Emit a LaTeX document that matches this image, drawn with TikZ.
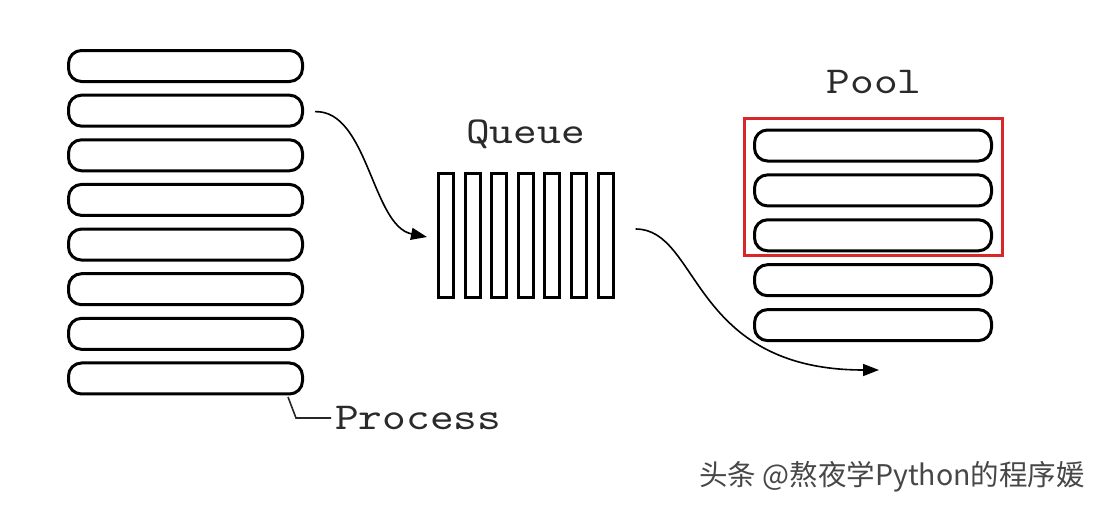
\documentclass[tikz,border=0pt]{standalone}
\usepackage{fontspec}
\newfontfamily\labelfont[FakeStretch=1.19]{lmmono10-regular.otf}
\newfontfamily\cjkfont{Noto Sans CJK SC}
\usetikzlibrary{arrows.meta}
\definecolor{poolred}{HTML}{D9262A}
\definecolor{inkgray}{HTML}{2A2A2A}
\tikzset{
  procbox/.style={draw=black, line width=3pt, rounded corners=13pt, minimum width=234pt, minimum height=31pt, inner sep=0pt},
  poolbox/.style={draw=black, line width=3pt, rounded corners=13pt, minimum width=237pt, minimum height=31pt, inner sep=0pt},
  qbar/.style={draw=black, line width=3pt, minimum width=15pt, minimum height=124pt, inner sep=0pt},
  lbl/.style={font=\labelfont\fontsize{38}{40}\selectfont, text=inkgray, inner sep=0pt},
  flow/.style={draw=black, line width=1.6pt, -{Triangle[length=16pt,width=12pt]}},
  thin/.style={draw=black!85, line width=1.6pt}
}
\begin{document}
\begin{tikzpicture}[x=1pt,y=-1pt]
\useasboundingbox (0,0) rectangle (1100,506);
% process stack
\foreach \i in {1,...,8}{
  \node[procbox] (p\i) at (185.5, {66+44.64*(\i-1)}) {};
}
% queue bars
\foreach \i in {1,...,7}{
  \node[qbar] (q\i) at ({446+26.6*(\i-1)}, 235.5) {};
}
% pool stack
\foreach \i in {1,...,5}{
  \node[poolbox] (r\i) at (873, {145.5+44.9*(\i-1)}) {};
}
% red selection box
\node[draw=poolred, line width=2.6pt, minimum width=258pt, minimum height=137pt, inner sep=0pt] (sel) at (873.5,187) {};
% labels
\node[lbl, anchor=base] (queue) at (525.5,143) {Queue};
\node[lbl, anchor=base] (pool) at (874,93) {Pool};
\node[lbl, anchor=base west] (proc) at (335,429) {Process};
% watermark
\node[font=\cjkfont\fontsize{28.5}{30}\selectfont, text=black!72, inner sep=0pt] (wm) at (892,477) {头条 @熬夜学Python的程序媛};
% connectors
\draw[flow] ([xshift=11pt,yshift=-1pt]p2.east) .. controls (368,110) and (372,226) .. ([xshift=-10pt,yshift=-1.5pt]q1.west);
\coordinate (poolin) at (879,370);
\draw[flow] ([xshift=21pt,yshift=6.5pt]q7.east) .. controls (700,229) and (690,370) .. (poolin);
\draw[thin] ([xshift=-16pt,yshift=-1.5pt]p8.south east) -- (296,418) -- ([xshift=-4pt,yshift=11pt]proc.base west);
\end{tikzpicture}
\end{document}
